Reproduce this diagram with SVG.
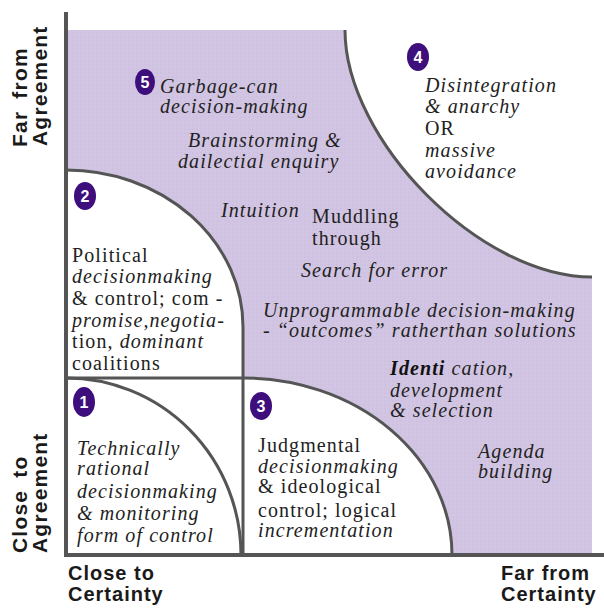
<svg xmlns="http://www.w3.org/2000/svg" width="604" height="608" viewBox="0 0 604 608">
<defs>
<pattern id="dots" width="4" height="4" patternUnits="userSpaceOnUse">
<rect width="4" height="4" fill="#d2c5e3"/>
<circle cx="1" cy="1" r="0.6" fill="#c4b6d6"/>
</pattern>
<style>
.ln{fill:none;stroke:#555;stroke-width:3}
.ax{fill:none;stroke:#555;stroke-width:4}
.t{font-family:'Liberation Serif','Times New Roman','DejaVu Serif',serif;font-size:20px;fill:#222;letter-spacing:1.1px}
.i{font-style:italic}
.r{font-style:normal}
.b{font-weight:bold;fill:#111}
.lab{font-family:'Liberation Sans',Arial,sans-serif;font-weight:700;font-size:20px;fill:#1a1a1a;letter-spacing:1px}
.rot{font-size:21px;letter-spacing:1.2px;word-spacing:5px}
.badge{fill:#3e0e7c}
.bn{font-family:'Liberation Sans',sans-serif;font-weight:bold;font-size:16px;fill:#fff;text-anchor:middle}
</style>
</defs>
<rect width="604" height="608" fill="#fff"/>

<g id="purple-region">
<path d="M68,30 H345 C345,140 480,277 592,277 V555 H452 A209,177 0 0 0 243,378 V327 A177,157 0 0 0 66,170 V30 Z" fill="url(#dots)"/>
</g>

<g id="connectors">
<path class="ln" d="M345,30 C345,140 480,277 592,277"/>
<path class="ln" d="M66,170 A177,157 0 0 1 243,327 V555"/>
<path class="ln" d="M66,378 H243"/>
<path class="ln" d="M243,378 A209,177 0 0 1 452,555"/>
<path class="ln" d="M66,378 A175,177 0 0 1 241,555"/>
<path class="ax" d="M66,12 V557"/>
<path class="ax" d="M64,555 H604"/>
</g>

<g id="axis-labels">
<text class="lab rot" transform="translate(27,147) rotate(-90)">Far from</text>
<text class="lab rot" transform="translate(47,146) rotate(-90)">Agreement</text>
<text class="lab rot" transform="translate(27,553) rotate(-90)">Close to</text>
<text class="lab rot" transform="translate(47,553) rotate(-90)">Agreement</text>
<text class="lab" x="68" y="580">Close to</text>
<text class="lab" x="68" y="601">Certainty</text>
<text class="lab" x="501" y="580">Far from</text>
<text class="lab" x="501" y="601">Certainty</text>
</g>

<g id="node-5">
<ellipse class="badge" cx="145" cy="82" rx="10" ry="13"/>
<text class="bn" x="145" y="88">5</text>
<text class="t i" x="160" y="93">Garbage-can</text>
<text class="t i" x="160" y="113">decision-making</text>
</g>

<g id="node-brainstorming">
<text class="t i" x="188" y="147">Brainstorming &amp;</text>
<text class="t i" x="178" y="168">dailectial  enquiry</text>
</g>

<g id="node-4">
<ellipse class="badge" cx="418" cy="57" rx="11" ry="14"/>
<text class="bn" x="418" y="63">4</text>
<text class="t i" x="425" y="92">Disintegration</text>
<text class="t i" x="425" y="113">&amp; anarchy</text>
<text class="t r" x="425" y="135">OR</text>
<text class="t i" x="425" y="157">massive</text>
<text class="t i" x="425" y="178">avoidance</text>
</g>

<g id="node-middle">
<text class="t i" x="221" y="217">Intuition</text>
<text class="t r" x="312" y="223">Muddling</text>
<text class="t r" x="312" y="245">through</text>
<text class="t i" x="301" y="277">Search for error</text>
<text class="t i" x="263" y="317">Unprogrammable  decision-making</text>
<text class="t i" x="263" y="337">- “outcomes”  ratherthan solutions</text>
<text class="t i" x="390" y="375"><tspan class="b">Identi</tspan> cation,</text>
<text class="t i" x="390" y="397">development</text>
<text class="t i" x="390" y="417">&amp; selection</text>
<text class="t i" x="478" y="458">Agenda</text>
<text class="t i" x="478" y="478">building</text>
</g>

<g id="node-2">
<ellipse class="badge" cx="85" cy="196" rx="11" ry="14"/>
<text class="bn" x="85" y="202">2</text>
<text class="t r" x="72" y="262">Political</text>
<text class="t i" x="72" y="283">decisionmaking</text>
<text class="t r" x="72" y="305">&amp; control; com -</text>
<text class="t i" x="72" y="327">promise,negotia-</text>
<text class="t" x="72" y="348">tion, <tspan class="i">dominant</tspan></text>
<text class="t r" x="72" y="370">coalitions</text>
</g>

<g id="node-1">
<ellipse class="badge" cx="84" cy="402" rx="11" ry="15"/>
<text class="bn" x="84" y="408">1</text>
<text class="t i" x="77" y="455">Technically</text>
<text class="t i" x="77" y="475">rational</text>
<text class="t i" x="77" y="498">decisionmaking</text>
<text class="t i" x="77" y="520">&amp; monitoring</text>
<text class="t i" x="77" y="542">form of control</text>
</g>

<g id="node-3">
<ellipse class="badge" cx="261" cy="406" rx="11" ry="14"/>
<text class="bn" x="261" y="412">3</text>
<text class="t r" x="258" y="452">Judgmental</text>
<text class="t i" x="258" y="473">decisionmaking</text>
<text class="t r" x="258" y="493">&amp; ideological</text>
<text class="t r" x="258" y="517">control; logical</text>
<text class="t i" x="258" y="537">incrementation</text>
</g>
</svg>
